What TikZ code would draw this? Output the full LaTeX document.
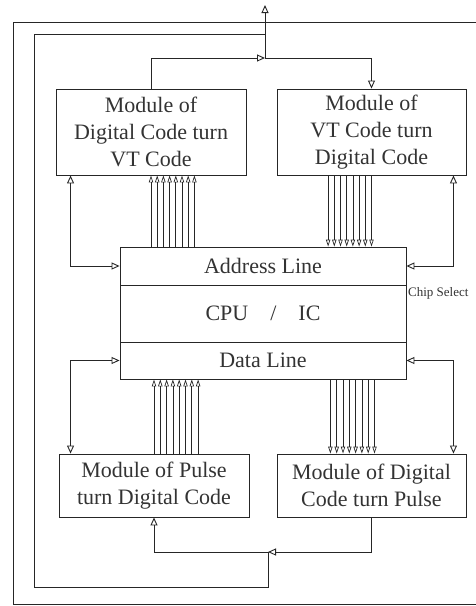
\documentclass[tikz,border=0pt]{standalone}
\usepackage{fontspec}
\setmainfont{Liberation Serif}
\usetikzlibrary{arrows.meta}

\begin{document}
\begin{tikzpicture}[x=1pt, y=-1pt, >={Triangle[open, length=8pt, width=7pt]}]
						\tikzstyle{module}=[draw=black!85, line width=.9pt, align=center, inner sep=0pt, text=black!80, font=\fontsize{22}{27}\selectfont]
						\tikzstyle{sig}=[draw=black!85, line width=.9pt, ->]
						\tikzstyle{bus}=[draw=black!85, line width=.7pt, -{Triangle[open, length=7pt, width=4.4pt]}]
						\useasboundingbox (0,0) rectangle (476,606);
						\draw[line width=.9pt, black!85] (476,22) -- (13,22) -- (13,604) -- (476,604);
						\path (151,132)   node[module, minimum width=190pt, minimum height=86pt] (m1) {Module of\\Digital Code turn\\VT Code};
						\path (371.5,132) node[module, minimum width=189pt, minimum height=86pt] (m2) {Module of\\VT Code turn\\Digital Code};
						\path (154,485.5) node[module, minimum width=190pt, minimum height=63pt] (m3) {Module of Pulse\\turn Digital Code};
						\path (371.5,485.5) node[module, minimum width=189pt, minimum height=63pt] (m4) {Module of Digital\\Code turn Pulse};
						\path (263,266)   node[module, minimum width=286pt, minimum height=38pt] (addr) {Address Line};
						\path (263,313.5) node[module, minimum width=286pt, minimum height=57pt] (cpu) {CPU\quad/\quad IC};
						\path (263,360.5) node[module, minimum width=286pt, minimum height=37pt] (data) {Data Line};
						\path (408,293) node[anchor=west, inner sep=0pt, text=black!80, font=\fontsize{13}{15}\selectfont] (cs) {Chip Select};
						\coordinate (jt) at (265,58);
						\coordinate (jb) at (268,552);
						\coordinate (out) at (265,5);
						\coordinate (lt) at (34,34);
						\coordinate (lb) at (34,587);
						% feedback loop
						\draw[sig] (m1.north) |- (jt);
						\draw[sig] (jt) -| (m2.north);
						\draw[sig] (jt) -- (out);
						\draw[draw=black!85, line width=.9pt] (jt |- lt) -- (lt) -- (lb) -| (jb);
						\draw[sig] (m4.south) |- (jb);
						\draw[sig] (jb) -| (m3.south);
						% side lines
						\draw[sig, <->] ([xshift=15pt]m1.south west) |- (addr.west);
						\draw[sig, <->] ([xshift=-13pt]m2.south east) |- (addr.east);
						\draw[sig, <->] (data.west) -| ([xshift=12pt]m3.north west);
						\draw[sig, <->] (data.east) -| ([xshift=-13pt]m4.north east);
						% buses
						\foreach \i in {0,...,7} {
							\draw[bus] ([xshift=\i*6.2pt]m1.south |- addr.north) -- ([xshift=\i*6.2pt]m1.south);
							\draw[bus] ([xshift=(\i-7)*6.2pt]m2.south) -- ([xshift=(\i-7)*6.2pt]m2.south |- addr.north);
							\draw[bus] ([xshift=\i*6.3pt]m3.north) -- ([xshift=\i*6.3pt]m3.north |- data.south);
							\draw[bus] ([xshift=(\i-7)*6.3pt+3pt]data.south -| m4.north) -- ([xshift=(\i-7)*6.3pt+3pt]m4.north);
						}
\end{tikzpicture}
\end{document}
